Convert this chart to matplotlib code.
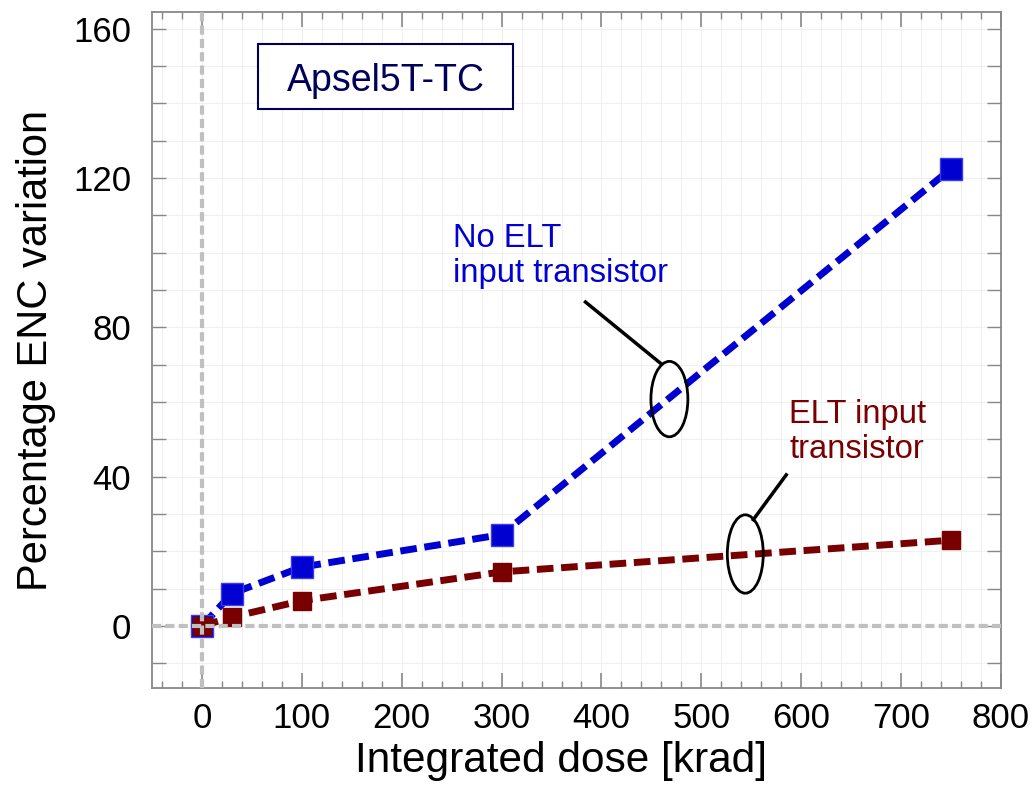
import matplotlib
matplotlib.use('Agg')
import matplotlib.pyplot as plt
from matplotlib.patches import Ellipse, Rectangle
from matplotlib.ticker import MultipleLocator

plt.rcParams['font.family'] = ['Liberation Sans', 'DejaVu Sans']

# dose points [krad] and percentage ENC variation
dose = [0, 30, 100, 300, 750]
enc_no_elt = [0, 8.7, 15.8, 24.5, 122.5]
enc_elt = [0, 2.4, 6.8, 14.5, 23.0]

blue = '#0000d0'
dred = '#780000'
navy = '#00005a'

fig = plt.figure(figsize=(10.32, 7.87), dpi=100)
ax = fig.add_axes([152 / 1032, 1 - 688 / 787, (1001 - 152) / 1032, (688 - 12) / 787])

ax.set_xlim(-50, 800)
ax.set_ylim(-16.6, 164.5)

ax.xaxis.set_major_locator(MultipleLocator(100))
ax.xaxis.set_minor_locator(MultipleLocator(20))
ax.yaxis.set_major_locator(MultipleLocator(40))
ax.yaxis.set_minor_locator(MultipleLocator(10))

ax.grid(True, which='both', color='#f0f0f0', lw=0.8, zorder=0)
ax.set_axisbelow(True)

for s in ax.spines.values():
    s.set_color('#888888')
    s.set_linewidth(1.3)

ax.tick_params(which='both', direction='in', top=True, right=True, color='#888888',
               labelsize=25)
ax.tick_params(axis='x', which='major', length=11, width=1.2, pad=10)
ax.tick_params(axis='x', which='minor', length=5, width=1)
ax.tick_params(axis='y', which='both', length=10, width=1, pad=15)

# zero reference lines
ax.axhline(0, color='#c0c0c0', lw=3, ls=(0, (2.2, 1.0)), zorder=5)
ax.axvline(0, color='#c0c0c0', lw=3, ls=(0, (2.2, 1.0)), zorder=5)

ax.plot(dose, enc_no_elt, color=blue, lw=5, dashes=(2.4, 1.1),
        marker='s', ms=16.5, mfc=blue, mec='#3a3af0', mew=1, zorder=3)
ax.plot(dose, enc_elt, color=dred, lw=5, dashes=(2.4, 1.1),
        marker='s', ms=13, mfc=dred, mec=dred, zorder=4)

ax.set_xlabel('Integrated dose [krad]', fontsize=30.5)
ax.xaxis.set_label_coords(0.482, -0.079)
ax.set_ylabel('Percentage ENC variation', fontsize=30)
ax.yaxis.set_label_coords(-0.113, 0.5)

# chip name box
ax.add_patch(Rectangle((0.1249, 0.8565), 0.3003, 0.0962, transform=ax.transAxes,
                       fc='white', ec=navy, lw=1.5, zorder=6))
ax.text(0.275, 0.8831, 'Apsel5T-TC', transform=ax.transAxes, fontsize=27,
        color=navy, ha='center', va='baseline', zorder=7)

# callouts
ax.text(251, 92.2, 'No ELT\ninput transistor', color=blue, fontsize=23.6,
        linespacing=1.18, va='baseline', ha='left')
ax.plot([384, 460], [86.8, 70.2], color='black', lw=2.5)
ax.add_patch(Ellipse((468, 60.8), 37, 20.2, fill=False, ec='black', lw=2, zorder=6))

ax.text(588, 45, 'ELT input\ntransistor', color=dred, fontsize=23.6,
        linespacing=1.18, va='baseline', ha='left')
ax.plot([585, 552], [40.5, 28.5], color='black', lw=2.5)
ax.add_patch(Ellipse((544, 19.3), 36, 21, fill=False, ec='black', lw=2, zorder=6))

fig.savefig('out.png', dpi=100)
